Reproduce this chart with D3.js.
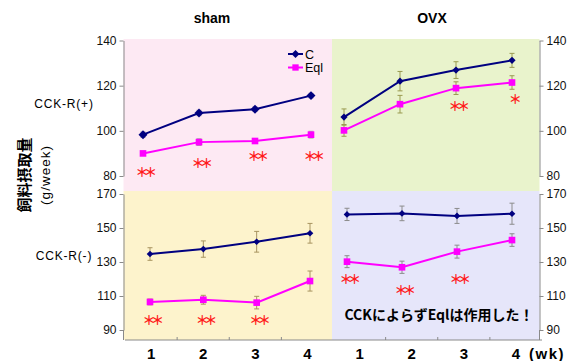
<!DOCTYPE html>
<html>
<head>
<meta charset="utf-8">
<script src="https://cdn.jsdelivr.net/npm/d3@7"></script>
<style>
  html, body { margin: 0; padding: 0; background: #fff; }
  svg { display: block; font-family: "Liberation Sans", Arial, sans-serif; }
</style>
</head>
<body>
<svg id="chart" width="571" height="361"></svg>
<script>
// Weekly food intake (g/week), C vs Eql, by group and CCK receptor status
const weeks = [1, 2, 3, 4];
const xLabels = ["1", "2", "3", "4", "1", "2", "3", "4"];
const groups = ["sham", "OVX"];
const rows = ["CCK-R(+)", "CCK-R(-)"];

const topTicks = [80, 100, 120, 140];
const bottomTicks = [90, 110, 130, 150, 170];

// CCK-R(+)
const shamPosC = [98.3, 107.9, 109.6, 115.6];
const shamPosCErr = [1.2, 1.2, 1.0, 1.0];
const shamPosEql = [90.0, 95.0, 95.5, 98.3];
const shamPosEqlErr = [0.8, 1.5, 1.0, 1.5];
const ovxPosC = [106.1, 122.0, 126.9, 131.2];
const ovxPosCErr = [3.6, 4.3, 3.7, 3.1];
const ovxPosEql = [100.2, 111.8, 118.9, 121.4];
const ovxPosEqlErr = [2.6, 3.9, 2.8, 3.0];

// CCK-R(-)
const shamNegC = [134.7, 137.6, 141.9, 146.9];
const shamNegCErr = [3.7, 4.8, 6.1, 5.8];
const shamNegEql = [106.5, 107.8, 106.1, 118.8];
const shamNegEqlErr = [1.7, 2.6, 3.7, 5.9];
const ovxNegC = [158.0, 158.6, 157.1, 158.4];
const ovxNegCErr = [3.6, 4.3, 4.4, 6.2];
const ovxNegEql = [130.2, 126.9, 136.1, 142.9];
const ovxNegEqlErr = [3.5, 3.6, 3.8, 3.7];

// significance marks: [week, level, label]
const shamPosStars = [[1, 81.6, "＊＊"], [2, 85.6, "＊＊"], [3, 88.7, "＊＊"], [4, 88.7, "＊＊"]];
const ovxPosStars = [[3, 110.9, "＊＊"], [4, 114.0, "＊"]];
const shamNegStars = [[1, 95.9, "＊＊"], [2, 95.9, "＊＊"], [3, 95.9, "＊＊"]];
const ovxNegStars = [[1, 120.0, "＊＊"], [2, 113.5, "＊＊"], [3, 120.0, "＊＊"]];

const note = "CCKによらずEqlは作用した！";

const svg = d3.select("#chart");

// layout
const L = 123.5, M = 332, R = 539.5;
const rowTop = [39, 191], rowBot = [191, 340];

const yTop = d3.scaleLinear().domain([80, 140]).range([176, 40.5]);
const yBot = d3.scaleLinear().domain([90, 170]).range([330, 194]);

const xAxisScale = d3.scaleBand().domain(d3.range(8)).range([125, 542]);

const panels = [
  { bg: "#fde9f3", x0: L, x1: M, row: 0, y: yTop, xr: [143, 311],
    c: shamPosC, ce: shamPosCErr, e: shamPosEql, ee: shamPosEqlErr, stars: shamPosStars, err: "#a8a8a8", cm: 40 },
  { bg: "#e9f3cc", x0: M, x1: R, row: 0, y: yTop, xr: [344, 512],
    c: ovxPosC, ce: ovxPosCErr, e: ovxPosEql, ee: ovxPosEqlErr, stars: ovxPosStars, err: "#9a9a50", cm: 26 },
  { bg: "#fdf3cc", x0: L, x1: M, row: 1, y: yBot, xr: [150, 310],
    c: shamNegC, ce: shamNegCErr, e: shamNegEql, ee: shamNegEqlErr, stars: shamNegStars, err: "#a89460", cm: 22 },
  { bg: "#e6e6fa", x0: M, x1: R, row: 1, y: yBot, xr: [347, 512],
    c: ovxNegC, ce: ovxNegCErr, e: ovxNegEql, ee: ovxNegEqlErr, stars: ovxNegStars, err: "#8c8c8c", cm: 22 }
];

// backgrounds
panels.forEach(p => {
  const yb = p.row === 0 ? rowTop : rowBot;
  svg.append("rect")
    .attr("x", p.x0).attr("y", yb[0])
    .attr("width", p.x1 - p.x0).attr("height", yb[1] - yb[0])
    .attr("fill", p.bg);
});

// y axes
function styleAxis(g) {
  g.selectAll("path, line").attr("stroke", "#8a8a8a");
  g.selectAll("text").attr("fill", "#111").style("font-size", "12px")
    .style("font-family", "'Liberation Sans', Arial, sans-serif");
}
svg.append("g").attr("transform", `translate(${L},0)`)
  .call(d3.axisLeft(yTop).tickValues(topTicks).tickSize(4).tickSizeOuter(0).tickPadding(3))
  .call(styleAxis);
svg.append("g").attr("transform", `translate(${L},0)`)
  .call(d3.axisLeft(yBot).tickValues(bottomTicks).tickSize(4).tickSizeOuter(0).tickPadding(3))
  .call(styleAxis);
svg.append("g").attr("transform", `translate(${R},0)`)
  .call(d3.axisRight(yTop).tickValues(topTicks).tickSize(4).tickSizeOuter(0).tickPadding(3))
  .call(styleAxis);
svg.append("g").attr("transform", `translate(${R},0)`)
  .call(d3.axisRight(yBot).tickValues(bottomTicks).tickSize(4).tickSizeOuter(0).tickPadding(3))
  .call(styleAxis);
// axis lines continue down to the week axis
[L, R].forEach(x => svg.append("line")
  .attr("x1", x).attr("x2", x).attr("y1", yBot(90)).attr("y2", 340)
  .attr("stroke", "#8a8a8a"));

// week axis
const xg = svg.append("g").attr("transform", "translate(0,340)");
xg.append("line").attr("x1", 125).attr("x2", 542).attr("stroke", "#8a8a8a");
xg.selectAll("line.b").data(d3.range(1, 8).filter(i => i !== 4)).join("line")
  .attr("class", "b")
  .attr("x1", i => xAxisScale(i)).attr("x2", i => xAxisScale(i))
  .attr("y1", 0).attr("y2", -3).attr("stroke", "#8a8a8a");
xg.selectAll("text").data(d3.range(8)).join("text")
  .attr("x", i => xAxisScale(i) + xAxisScale.bandwidth() / 2)
  .attr("y", 19)
  .attr("text-anchor", "middle")
  .style("font-size", "15px").style("font-weight", "bold")
  .text(i => xLabels[i]);
xg.append("text").attr("x", 529).attr("y", 19)
  .style("font-size", "15px").style("font-weight", "bold")
  .style("letter-spacing", "1.5px")
  .text("(wk)");

// series
panels.forEach(p => {
  const x = d3.scalePoint().domain(weeks).range(p.xr);
  const y = p.y;
  const g = svg.append("g");
  const series = [
    { v: p.c, err: p.ce, color: "#000080", sym: "diamond" },
    { v: p.e, err: p.ee, color: "#ff00ff", sym: "square" }
  ];
  series.forEach(s => {
    const pts = weeks.map((w, i) => ({ w, v: s.v[i], e: s.err[i] }));
    // error bars
    const eb = g.selectAll(null).data(pts).join("g").attr("stroke", p.err).attr("stroke-width", 1);
    eb.append("line").attr("x1", d => x(d.w)).attr("x2", d => x(d.w))
      .attr("y1", d => y(d.v - d.e)).attr("y2", d => y(d.v + d.e));
    eb.append("line").attr("x1", d => x(d.w) - 2.5).attr("x2", d => x(d.w) + 2.5)
      .attr("y1", d => y(d.v + d.e)).attr("y2", d => y(d.v + d.e));
    eb.append("line").attr("x1", d => x(d.w) - 2.5).attr("x2", d => x(d.w) + 2.5)
      .attr("y1", d => y(d.v - d.e)).attr("y2", d => y(d.v - d.e));
    // line
    g.append("path").datum(pts)
      .attr("fill", "none").attr("stroke", s.color).attr("stroke-width", 2)
      .attr("d", d3.line().x(d => x(d.w)).y(d => y(d.v)));
    // markers
    g.selectAll(null).data(pts).join("path")
      .attr("transform", d => `translate(${x(d.w)},${y(d.v)})` + (s.sym === "diamond" ? " rotate(45)" : ""))
      .attr("d", d3.symbol(d3.symbolSquare, s.sym === "diamond" ? p.cm : 44)())
      .attr("fill", s.color);
  });
  // significance marks
  g.selectAll(null).data(p.stars).join("text")
    .attr("x", d => x(d[0]) + 1)
    .attr("y", d => y(d[1]))
    .attr("dy", "0.36em")
    .attr("text-anchor", "middle")
    .attr("fill", "#ff1a1a")
    .style("font-family", "'Noto Sans CJK JP', sans-serif")
    .style("font-size", "13px")
    .style("font-weight", "bold")
    .style("letter-spacing", "-4.5px")
    .text(d => d[2]);
});

// legend
const lg = svg.append("g").attr("transform", "translate(288,54)");
[["C", "#000080", "diamond"], ["Eql", "#ff00ff", "square"]].forEach((d, i) => {
  const gy = i * 13.5;
  lg.append("line").attr("x1", 0).attr("x2", 15).attr("y1", gy).attr("y2", gy)
    .attr("stroke", d[1]).attr("stroke-width", 2);
  lg.append("path")
    .attr("transform", `translate(7.5,${gy})` + (d[2] === "diamond" ? " rotate(45)" : ""))
    .attr("d", d3.symbol(d3.symbolSquare, d[2] === "diamond" ? 32 : 40)())
    .attr("fill", d[1]);
  lg.append("text").attr("x", 17).attr("y", gy).attr("dy", "0.36em")
    .style("font-size", "12.5px").text(d[0]);
});

// group titles
[[212, groups[0]], [432, groups[1]]].forEach(d => svg.append("text")
  .attr("x", d[0]).attr("y", 18).attr("dy", "0.36em").attr("text-anchor", "middle")
  .style("font-size", "14px").style("font-weight", "bold").text(d[1]));

// row labels
[[104, rows[0]], [256, rows[1]]].forEach(d => svg.append("text")
  .attr("x", 64).attr("y", d[0]).attr("dy", "0.36em").attr("text-anchor", "middle")
  .style("font-size", "12px").style("letter-spacing", "0.8px").text(d[1]));

// y title
svg.append("text").attr("transform", "translate(25,175) rotate(-90)")
  .attr("text-anchor", "middle").attr("dy", "0.36em")
  .style("font-family", "'Noto Sans CJK JP', sans-serif")
  .style("font-size", "15px").style("font-weight", "bold").text("飼料摂取量");
svg.append("text").attr("transform", "translate(45,175) rotate(-90)")
  .attr("text-anchor", "middle").attr("dy", "0.36em")
  .style("font-size", "13.5px").style("letter-spacing", "1px").text("(g/week)");

// annotation
svg.append("text").attr("x", 439).attr("y", 315).attr("dy", "0.36em")
  .attr("text-anchor", "middle")
  .style("font-family", "'Noto Sans CJK JP', sans-serif")
  .style("font-size", "14px").style("font-weight", "bold").text(note);
</script>
</body>
</html>
